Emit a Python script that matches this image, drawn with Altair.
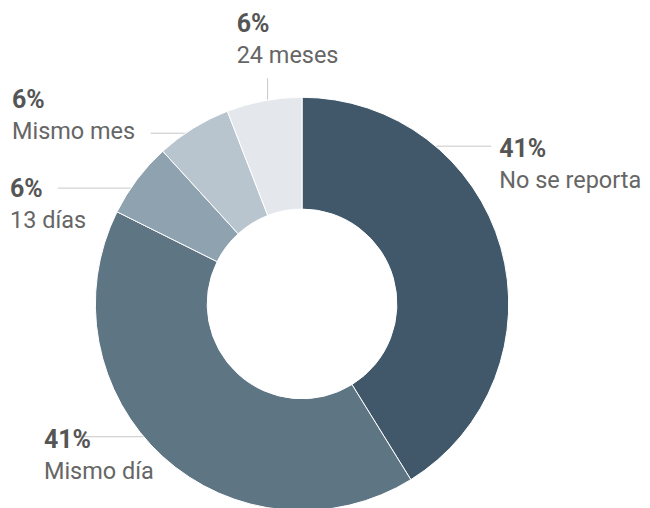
import altair as alt
import pandas as pd

# ---- data ----
categories = ["No se reporta", "Mismo día", "13 días", "Mismo mes", "24 meses"]
values = [7, 7, 1, 1, 1]
colors = ["#40586a", "#5e7584", "#8fa2af", "#b9c5ce", "#e4e8ed"]

# ---- layout (chart pixel coords; page coords minus 8px margin) ----
OFF = 8
cx, cy = 302.5 - OFF, 304 - OFF
R_OUT, R_IN = 207, 95
# label anchor (left x, percent baseline) per category
label_x = [500, 44, 10, 12, 237]
label_y = [157, 448, 197, 108, 32]
# leader lines (x, x2, y, y2) per category
lead_x = [492, 76, 58, 151, 268]
lead_x2 = [430, 150, 135, 190, 268]
lead_y = [146, 437, 188, 133, 78]
lead_y2 = [146, 437, 188, 133, 105]

total = sum(values)
df = pd.DataFrame({
    "cat": categories,
    "value": values,
    "order": list(range(len(categories))),
})
df["pct"] = [f"{round(v / total * 100)}%" for v in values]
df["lx"] = [x - OFF for x in label_x]
df["ly"] = [y - OFF for y in label_y]
df["ny"] = [y - OFF + 31 for y in label_y]
df["rx"] = [x - OFF for x in lead_x]
df["rx2"] = [x - OFF for x in lead_x2]
df["ry"] = [y - OFF for y in lead_y]
df["ry2"] = [y - OFF for y in lead_y2]

base = alt.Chart(df)

rules = base.mark_rule(color="#c8c8c8", strokeWidth=1).encode(
    x=alt.X("rx:Q", scale=None),
    x2="rx2:Q",
    y=alt.Y("ry:Q", scale=None),
    y2="ry2:Q",
)

arcs = base.mark_arc(outerRadius=R_OUT, innerRadius=R_IN, stroke="white", strokeWidth=1).encode(
    theta=alt.Theta("value:Q", stack=True),
    order=alt.Order("order:Q"),
    color=alt.Color("cat:N", scale=alt.Scale(domain=categories, range=colors), legend=None),
    x=alt.value(cx),
    y=alt.value(cy),
)

pct_text = base.mark_text(align="left", baseline="alphabetic", font="Roboto",
                          fontSize=25, fontWeight="bold", color="#555555").encode(
    x=alt.X("lx:Q", scale=None),
    y=alt.Y("ly:Q", scale=None),
    text="pct:N",
)

name_text = base.mark_text(align="left", baseline="alphabetic", font="Roboto",
                           fontSize=23.5, fontWeight="normal", color="#666666").encode(
    x=alt.X("lx:Q", scale=None),
    y=alt.Y("ny:Q", scale=None),
    text="cat:N",
)

chart = alt.layer(rules, arcs, pct_text, name_text).properties(
    width=634, height=492, padding=0, background="white"
).configure_view(stroke=None)

chart.save("out.html", embed_options={"renderer": "svg", "actions": False})
